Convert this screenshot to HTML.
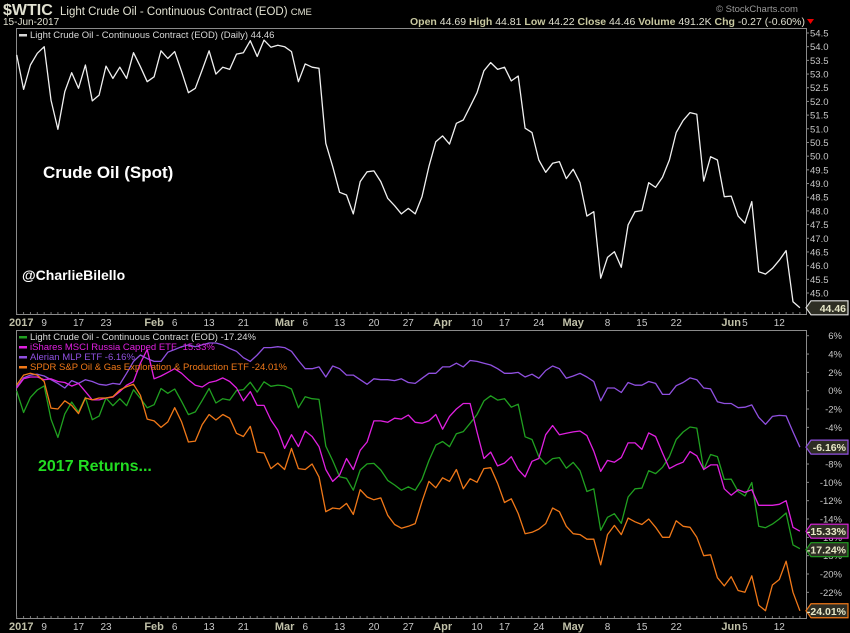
<!DOCTYPE html>
<html><head><meta charset="utf-8"><title>$WTIC Light Crude Oil vs energy ETFs, 2017 returns</title>
<style>
html,body{margin:0;padding:0;background:#000;}
svg{display:block;font-family:"Liberation Sans",sans-serif;}
</style></head>
<body>
<svg id="chart" width="850" height="633" viewBox="0 0 850 633" xmlns="http://www.w3.org/2000/svg">
<rect x="0" y="0" width="850" height="633" fill="#000"/>
<g>
<text x="3" y="15" font-size="16" font-weight="bold" fill="#e0e0d0">$WTIC</text>
<text x="60" y="15" font-size="11.5" fill="#e0e0d0">Light Crude Oil - Continuous Contract (EOD) <tspan font-size="9.5">CME</tspan></text>
<text x="3" y="25" font-size="10" fill="#e0e0d0">15-Jun-2017</text>
<text x="716" y="12" font-size="9.5" fill="#999">© StockCharts.com</text>
<text x="805" y="25" font-size="10.5" fill="#e0e0d0" text-anchor="end"><tspan font-weight="bold" fill="#c8c8a0">Open</tspan> 44.69 <tspan font-weight="bold" fill="#c8c8a0">High</tspan> 44.81 <tspan font-weight="bold" fill="#c8c8a0">Low</tspan> 44.22 <tspan font-weight="bold" fill="#c8c8a0">Close</tspan> 44.46 <tspan font-weight="bold" fill="#c8c8a0">Volume</tspan> 491.2K <tspan font-weight="bold" fill="#c8c8a0">Chg</tspan> -0.27 (-0.60%)</text>
<polygon points="807,19 814,19 810.5,24" fill="#e00"/>
</g>
<g id="gtop"></g>
<g id="gbot"></g>
<text x="43" y="178" font-size="17" font-weight="bold" fill="#fff">Crude Oil (Spot)</text>
<text x="22" y="280" font-size="14" font-weight="bold" fill="#fff">@CharlieBilello</text>
<text x="38" y="471" font-size="16" font-weight="bold" fill="#22dd22">2017 Returns...</text>
</svg>
<script>
// ---- data ----
const crude = [53.70,52.44,53.33,53.76,54.0,52.05,50.98,52.36,53.05,52.48,53.33,52.02,52.23,53.29,52.84,53.25,52.84,53.78,53.27,52.72,52.90,53.85,53.57,53.82,53.09,52.32,52.48,53.15,53.85,53.0,53.25,53.17,53.73,53.78,54.22,53.64,54.24,53.98,54.05,54.0,53.82,52.72,53.37,53.25,53.21,50.47,49.62,48.68,48.58,47.89,49.07,49.43,49.46,49.07,48.46,48.19,47.89,48.09,
47.89,48.52,49.62,50.53,50.74,50.44,51.2,51.32,51.81,52.32,53.12,53.42,53.17,53.25,52.75,52.93,51.02,50.86,49.86,49.41,49.74,49.80,49.18,49.52,49.03,47.81,47.97,45.54,46.30,46.51,45.94,47.49,47.97,48.01,49.03,48.86,49.23,49.86,50.86,51.3,51.59,51.53,49.09,49.98,49.86,48.52,48.54,47.81,47.55,48.34,45.78,45.69,45.90,46.20,46.55,44.68,44.46];
const crudeBase = 53.72; // prior-year close, green line = crude % change
const mlp = [0.4,1.4,1.7,1.8,1.6,1.2,0.8,0.3,1.1,0.8,1.2,1.0,0.7,0.6,0.8,0.7,1.9,3.2,3.9,3.5,3.2,3.2,4.2,4.5,4.8,5.0,4.8,5.0,5.2,
5.2,5.0,4.6,4.3,3.6,3.2,3.9,4.7,4.7,4.8,4.7,4.3,3.3,2.4,2.4,2.6,1.5,2.7,2.4,1.7,1.7,1.2,0.7,1.3,1.2,1.2,1.1,1.3,0.9,0.8,1.35,1.9,1.9,2.6,2.6,3.0,2.6,3.3,3.2,3.0,2.8,2.4,1.9,1.9,2.0,1.5,1.8,1.35,2.2,2.7,2.4,1.35,1.6,1.9,1.5,1.0,-1.1,0.3,0.3,-0.2,0.9,0.6,0.6,1.0,0.8,-0.4,-0.4,0.55,0.9,1.4,1.2,0.3,0.2,-1.2,-1.4,-1.4,-1.85,-1.8,-1.55,-2.9,-3.67,-2.8,-2.7,-2.75,-4.5,-6.16];
const russia = [0.3,1.3,1.5,1.5,1.2,1.3,1.0,0.9,0.5,0.8,-0.1,-1.0,-1.0,-0.8,-0.7,-0.1,0.6,1.0,3.0,4.5,1.3,1.6,2.0,2.4,1.9,1.2,0.6,0.4,0.9,
1.06,1.4,1.0,0.3,-1.1,-0.1,-1.6,-1.6,-3.2,-4.3,-6.3,-4.8,-6.1,-4.4,-5.0,-6.1,-8.6,-9.9,-9.2,-7.4,-8.6,-6.5,-5.6,-3.3,-3.3,-3.45,-3.0,-3.1,-2.65,
-3.45,-3.55,-3.3,-2.6,-4.2,-2.8,-2.0,-1.4,-1.4,-4.5,-7.4,-6.7,-8.2,-7.9,-7.2,-8.6,-9.4,-7.7,-7.4,-4.8,-3.8,-4.8,-4.65,-4.5,-4.4,-4.9,-6.6,-8.8,
-7.6,-7.8,-7.3,-5.7,-5.7,-6.4,-4.6,-5.0,-6.8,-8.5,-8.1,-7.8,-6.65,-7.1,-8.6,-8.1,-8.1,-10.7,-11.4,-10.8,-11.1,-10.8,-12.5,-12.5,-12.5,-12.4,-12.0,-14.9,-15.33];
const xop = [0.63,1.7,1.9,1.7,1.0,-1.9,-2.0,-1.1,-1.6,-2.5,-0.8,-1.0,-0.8,-0.8,-0.65,0.08,0.44,0.7,-0.5,-3.1,-3.3,-4.0,-3.4,-1.85,-3.4,-5.6,-5.5,-3.7,-2.6,
-3.2,-2.6,-3.0,-4.65,-5.0,-3.9,-6.7,-6.8,-8.5,-7.9,-8.6,-6.3,-8.5,-8.6,-8.0,-9.4,-13.2,-12.8,-12.9,-12.3,-13.5,-10.8,-11.6,-11.9,-11.7,-13.6,-14.6,-15.0,-14.8,
-14.5,-12.1,-9.9,-10.6,-9.5,-9.9,-8.6,-10.7,-9.6,-10.0,-8.5,-8.4,-10.1,-12.2,-11.8,-13.4,-15.6,-15.45,-15.1,-14.5,-12.8,-13.2,-14.8,-15.6,-15.7,-16.2,-16.2,-19.0,
-15.7,-14.7,-15.7,-13.9,-14.3,-14.6,-14.0,-14.9,-16.0,-16.0,-14.2,-14.8,-14.9,-16.0,-18.0,-17.9,-20.4,-21.3,-20.3,-21.8,-22.0,-20.2,-23.4,-24.0,-21.2,-20.6,-18.6,-22.0,-24.01];
const priceTicks = [54.5,54.0,53.5,53.0,52.5,52.0,51.5,51.0,50.5,50.0,49.5,49.0,48.5,48.0,47.5,47.0,46.5,46.0,45.5,45.0];
const pctTicks = [6,4,2,0,-2,-4,-6,-8,-10,-12,-14,-16,-18,-20,-22,-24];
const dateLabels = ["2017","9","17","23","Feb","6","13","21","Mar","6","13","20","27","Apr","10","17","24","May","8","15","22","Jun","5","12"];
const dateIdx = [0,4,9,13,20,23,28,33,39,42,47,52,57,62,67,71,76,81,86,91,96,104,106,111];
const monthLabel = [true,false,false,false,true,false,false,false,true,false,false,false,false,true,false,false,false,true,false,false,false,true,false,false];

// ---- scales ----
const X0=16.7, DX=6.87;
const xs = i => X0 + i*DX;
const yPrice = v => 33 + (54.5 - v)*27.37;
const yPct = p => 390.7 - p*9.165;
const NS="http://www.w3.org/2000/svg";
function mk(tag, attrs, parent, text){
  const e=document.createElementNS(NS,tag);
  for(const k in attrs) e.setAttribute(k,attrs[k]);
  if(text!==undefined) e.textContent=text;
  parent.appendChild(e); return e;
}
const gTop=document.getElementById('gtop'), gBot=document.getElementById('gbot');

function panel(g, y1, y2, name){
  const r=mk('rect',{x:16.5,y:y1,width:790,height:y2-y1,fill:'none',stroke:'#8a8a8a','stroke-width':1},g);
  
  
}
panel(gTop,28.5,314.5,'price-panel');
panel(gBot,330.5,618.5,'returns-panel');

for(let i=0;i<115;i++){
  [314,618].forEach(yb=>{
    const t=mk('line',{x1:xs(i),x2:xs(i),y1:yb-2,y2:yb,stroke:'#777','stroke-width':1},yb===314?gTop:gBot);
    
    
  });
}

priceTicks.forEach(v=>{
  const y=yPrice(v);
  const t=mk('line',{x1:806,x2:809,y1:y,y2:y,stroke:'#888'},gTop);
  
  
  const l=mk('text',{x:810,y:y+3.5,'font-size':9.5,fill:'#c8c8c8'},gTop,v.toFixed(1));
  
  
});
pctTicks.forEach(p=>{
  const y=yPct(p);
  const t=mk('line',{x1:806,x2:809,y1:y,y2:y,stroke:'#888'},gBot);
  
  
  const l=mk('text',{x:842,y:y+3.5,'font-size':9.5,fill:'#c8c8c8','text-anchor':'end'},gBot,p+'%');
  
  
});

[[gTop,326],[gBot,630]].forEach(([g,yy])=>{
  dateLabels.forEach((s,k)=>{
    const x=xs(dateIdx[k]);
    const a = k===0 ? 'start':'middle';
    const l=mk('text',{x:k===0?9:x,y:yy,'font-size':monthLabel[k]?11:10,'font-weight':monthLabel[k]?'bold':'normal',fill:monthLabel[k]?'#c0c0a8':'#c8c8c8','text-anchor':a},g,s);
    
    
  });
});

function line(g, vals, yf, color, name){
  const d=vals.map((v,i)=>(i?'L':'M')+xs(i).toFixed(1)+','+yf(v).toFixed(1)).join('');
  const p=mk('path',{d:d,fill:'none',stroke:color,'stroke-width':1.3,'stroke-linejoin':'round'},g);
  
  
}
line(gTop, crude, yPrice, '#f0f0f0', 'crude-price-line');
const green = crude.map(v=>(v/crudeBase-1)*100);
line(gBot, mlp, yPct, '#9050e0', 'alerian-mlp-line');
line(gBot, green, yPct, '#20a020', 'crude-return-line');
line(gBot, russia, yPct, '#e020e0', 'russia-etf-line');
line(gBot, xop, yPct, '#f07818', 'xop-etf-line');

function tag(g, y, text, border, name){
  const b=mk('path',{d:`M806,${y} L811,${y-7} L848,${y-7} L848,${y+7} L811,${y+7} Z`,fill:'#2e2e24',stroke:border,'stroke-width':1.2},g);
  
  
  const t=mk('text',{x:846,y:y+4,'font-size':10.5,'font-weight':'bold',fill:'#e8e8c8','text-anchor':'end'},g,text);
  
  
}
tag(gTop, yPrice(crude[crude.length-1]), crude[crude.length-1].toFixed(2), '#e0e0e0', 'last-price-label');
tag(gBot, yPct(mlp[mlp.length-1]), mlp[mlp.length-1].toFixed(2)+'%', '#9050e0', 'mlp-last-label');
tag(gBot, yPct(russia[russia.length-1]), russia[russia.length-1].toFixed(2)+'%', '#e020e0', 'russia-last-label');
tag(gBot, yPct(green[green.length-1])+1, '-17.24%', '#20a020', 'crude-return-last-label');
tag(gBot, yPct(xop[xop.length-1]), xop[xop.length-1].toFixed(2)+'%', '#f07818', 'xop-last-label');

function legend(g, y, swatchColor, textColor, text, name){
  const s=mk('rect',{x:19,y:y-4,width:8,height:2.5,fill:swatchColor},g);
  
  
  const t=mk('text',{x:30,y:y,'font-size':9.5,fill:textColor},g,text);
  
  
}
legend(gTop, 38, '#d8d8d8', '#d8d8d8', 'Light Crude Oil - Continuous Contract (EOD) (Daily) 44.46', 'price-legend-entry');
legend(gBot, 340, '#20a020', '#d8d8d8', 'Light Crude Oil - Continuous Contract (EOD) -17.24%', 'legend-crude');
legend(gBot, 350, '#e020e0', '#e020e0', 'iShares MSCI Russia Capped ETF -15.33%', 'legend-russia');
legend(gBot, 360, '#9050e0', '#9050e0', 'Alerian MLP ETF -6.16%', 'legend-mlp');
legend(gBot, 370, '#f07818', '#f07818', 'SPDR S&P Oil & Gas Exploration & Production ETF -24.01%', 'legend-xop');
</script>
</body></html>
